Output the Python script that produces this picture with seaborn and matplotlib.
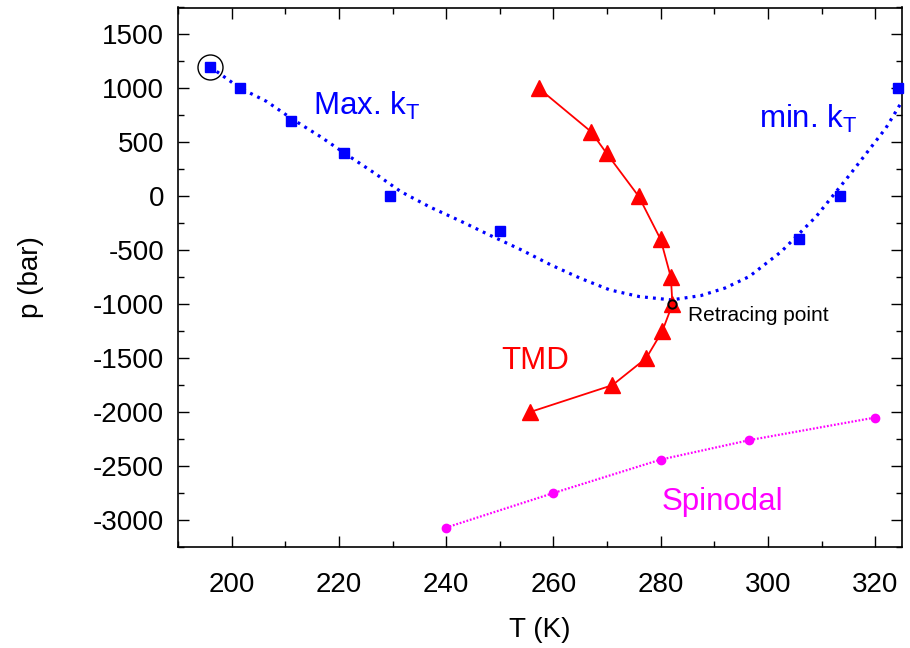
import numpy as np
import pandas as pd
import matplotlib
matplotlib.use("Agg")
import matplotlib.pyplot as plt
import seaborn as sns

# Maximum of isothermal compressibility (simulation points)
max_kt_T = [196.0, 201.5, 211.0, 221.0, 229.5, 250.0]
max_kt_p = [1200, 1000, 700, 400, 0, -325]

# Minimum of isothermal compressibility (simulation points)
min_kt_T = [305.8, 313.5, 324.3]
min_kt_p = [-400, 0, 1000]

# Smooth kT-extremum line through both branches
kt_line_T = [196.0, 201.5, 206.5, 211.5, 216.5, 221.5, 226.5, 231.5, 237.0,
             242.5, 248.0, 254.0, 259.5, 265.0, 270.5, 276.0, 282.0, 287.5,
             292.0, 296.5, 302.5, 309.0, 315.5, 322.0, 325.0]
kt_line_p = [1200, 1005, 880, 710, 555, 385, 220, 45, -100,
             -225, -357, -496, -635, -759, -867, -929, -960, -920,
             -850, -744, -512, -187, 215, 633, 880]

# Temperature of maximum density
tmd_T = [257.3, 267.0, 269.9, 275.9, 280.0, 281.9, 282.2, 280.3, 277.3, 271.0, 255.6]
tmd_p = [1000, 600, 400, 0, -400, -750, -1000, -1250, -1500, -1750, -2000]

# Liquid spinodal
spin_T = [240.0, 260.0, 280.0, 296.5, 320.0]
spin_p = [-3070, -2750, -2440, -2260, -2050]

# Retracing point
retr_T = [282.2]
retr_p = [-1000]

x_ticks = [200, 220, 240, 260, 280, 300, 320]
y_ticks = [1500, 1000, 500, 0, -500, -1000, -1500, -2000, -2500, -3000]

sns.set_theme(style="ticks")
plt.rcParams["font.family"] = ["Liberation Sans", "DejaVu Sans"]
plt.rcParams["mathtext.fontset"] = "custom"
plt.rcParams["mathtext.rm"] = "Liberation Sans"
plt.rcParams["mathtext.it"] = "Liberation Sans:italic"
plt.rcParams["text.color"] = "black"
plt.rcParams["axes.labelcolor"] = "black"
plt.rcParams["xtick.color"] = "black"
plt.rcParams["ytick.color"] = "black"

fig = plt.figure(figsize=(9.10, 6.48), dpi=100)
ax = fig.add_axes([178 / 910, 1 - 547 / 648, 724 / 910, 539.5 / 648])

blue = "#0000ff"
red = "#ff0000"
magenta = "#ff00ff"

df_line = pd.DataFrame({"T": kt_line_T, "p": kt_line_p})
df_max = pd.DataFrame({"T": max_kt_T, "p": max_kt_p})
df_min = pd.DataFrame({"T": min_kt_T, "p": min_kt_p})
df_tmd = pd.DataFrame({"T": tmd_T, "p": tmd_p})
df_spin = pd.DataFrame({"T": spin_T, "p": spin_p})

sns.lineplot(data=df_line, x="T", y="p", sort=False, ax=ax, color=blue,
             lw=2.3, linestyle=(0, (0.9, 1.6)), dash_capstyle="butt",
             estimator=None)
sns.lineplot(data=df_spin, x="T", y="p", sort=False, ax=ax, color=magenta,
             lw=1.6, linestyle=(0, (0.8, 0.8)), estimator=None)
sns.lineplot(data=df_tmd, x="T", y="p", sort=False, ax=ax, color=red,
             lw=1.3, estimator=None)

ax.plot(df_max["T"], df_max["p"], ls="none", marker="s", ms=6.5,
        color=blue, mec=blue, zorder=4)
ax.plot(df_min["T"], df_min["p"], ls="none", marker="s", ms=6.5,
        color=blue, mec=blue, zorder=4, clip_on=False)
ax.plot(df_tmd["T"], df_tmd["p"], ls="none", marker="^", ms=12,
        color=red, mec=red, zorder=4)
ax.plot(df_spin["T"], df_spin["p"], ls="none", marker="o", ms=6,
        color=magenta, mec=magenta, zorder=4)

# Highlight the highest-pressure kT maximum and the retracing point
ax.plot(max_kt_T[:1], max_kt_p[:1], ls="none", marker="o", ms=18,
        mfc="none", mec="black", mew=1.0, zorder=5)
ax.plot(retr_T, retr_p, ls="none", marker="o", ms=6,
        mfc="none", mec="black", mew=1.4, zorder=5)

ax.text(215.1, 756, r"Max. k$_\mathrm{T}$", color=blue, fontsize=22.5,
        ha="left", va="baseline")
ax.text(298.3, 633, r"min. k$_\mathrm{T}$", color=blue, fontsize=22.5,
        ha="left", va="baseline")
ax.text(250.2, -1603, "TMD", color=red, fontsize=22.5, ha="left", va="baseline")
ax.text(280.2, -2908, "Spinodal", color=magenta, fontsize=22.5,
        ha="left", va="baseline")
ax.text(285.1, -1108, "Retracing point", color="black", fontsize=15,
        ha="left", va="center")

ax.set_xlim(190, 325)
ax.set_ylim(-3250, 1750)
ax.set_xticks(x_ticks)
ax.set_yticks(y_ticks)
ax.set_xticklabels([str(v) for v in x_ticks])
ax.set_yticklabels([str(v) for v in y_ticks])
ax.xaxis.set_minor_locator(matplotlib.ticker.MultipleLocator(10))
ax.yaxis.set_minor_locator(matplotlib.ticker.MultipleLocator(250))
ax.tick_params(which="both", direction="in", top=True, right=True,
               color="black", width=1.0)
ax.tick_params(which="major", length=8, labelsize=20, labelcolor="black")
ax.tick_params(axis="x", which="major", pad=18)
ax.tick_params(axis="y", which="major", pad=10)
ax.tick_params(which="minor", length=4)
for s in ax.spines.values():
    s.set_visible(True)
    s.set_color("black")
    s.set_linewidth(1.2)

ax.set_xlabel("T (K)", fontsize=20, labelpad=14, color="black")
ax.set_ylabel("p (bar)", fontsize=20, labelpad=35, color="black")
ax.set_facecolor("white")
fig.patch.set_facecolor("white")

fig.savefig("out.png", dpi=100, facecolor="white")
